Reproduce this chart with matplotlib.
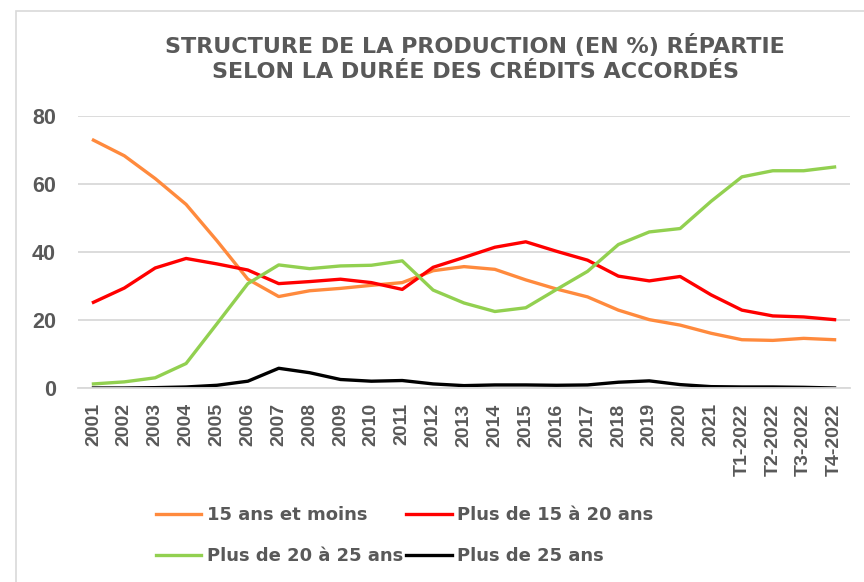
import matplotlib
matplotlib.use("Agg")
import matplotlib.pyplot as plt
from matplotlib.patches import Rectangle

# categories (axe des x)
periodes = ['2001', '2002', '2003', '2004', '2005', '2006', '2007', '2008',
            '2009', '2010', '2011', '2012', '2013', '2014', '2015', '2016',
            '2017', '2018', '2019', '2020', '2021', 'T1-2022', 'T2-2022',
            'T3-2022', 'T4-2022']

# series (en %)
moins_15 = [72.9, 68.3, 61.6, 54.0, 43.3, 32.0, 26.9, 28.6, 29.3, 30.2, 31.0,
            34.5, 35.7, 34.9, 31.8, 29.1, 26.8, 22.9, 20.1, 18.5, 16.1, 14.2,
            14.0, 14.6, 14.2]
de_15_a_20 = [25.2, 29.4, 35.3, 38.1, 36.5, 34.7, 30.7, 31.3, 32.0, 31.0, 29.0,
              35.5, 38.4, 41.4, 43.0, 40.2, 37.6, 32.9, 31.5, 32.8, 27.4, 22.9,
              21.2, 20.9, 20.1]
de_20_a_25 = [1.2, 1.8, 3.0, 7.2, 18.9, 30.7, 36.2, 35.1, 35.9, 36.1, 37.4,
              28.8, 25.0, 22.5, 23.6, 29.0, 34.3, 42.2, 45.9, 46.9, 54.9, 62.1,
              63.9, 63.9, 65.0]
plus_25 = [0.0, 0.0, 0.1, 0.3, 0.8, 2.0, 5.8, 4.5, 2.5, 2.0, 2.2,
           1.2, 0.7, 0.9, 0.9, 0.8, 0.9, 1.7, 2.1, 1.0, 0.4, 0.3,
           0.3, 0.2, 0.0]

y_ticks = [0, 20, 40, 60, 80]

gris = '#595959'
arial = ['Liberation Sans', 'DejaVu Sans']

fig = plt.figure(figsize=(8.64, 5.82), dpi=100)
W, H = 864, 582

# cadre du graphique
fig.patches.append(Rectangle((16 / W, -0.1), 2.0, 1 - 11 / H + 0.1,
                             transform=fig.transFigure, fill=False,
                             edgecolor='#D9D9D9', linewidth=1.2))

ax = fig.add_axes([78 / W, 1 - 388 / H, 772 / W, 272 / H])

x = range(len(periodes))
l1, = ax.plot(x, moins_15, color='#FF8A3D', lw=2.4, label='15 ans et moins')
l2, = ax.plot(x, de_15_a_20, color='#FF0000', lw=2.4, label='Plus de 15 à 20 ans')
l3, = ax.plot(x, de_20_a_25, color='#92D050', lw=2.4, label='Plus de 20 à 25 ans')
l4, = ax.plot(x, plus_25, color='#000000', lw=2.4, label='Plus de 25 ans')

ax.set_xlim(-0.5, len(periodes) - 0.5)
ax.set_ylim(0, 80)
ax.set_yticks(y_ticks)
ax.set_xticks(list(x))
ax.set_xticklabels(periodes, rotation=90, family=arial, fontweight='bold',
                   fontsize=14, color=gris)
ax.set_yticklabels([str(v) for v in y_ticks], family=arial, fontweight='bold',
                   fontsize=15.5, color=gris)
ax.tick_params(length=0)
ax.tick_params(axis='x', pad=11)
ax.tick_params(axis='y', pad=16)
ax.grid(axis='y', color='#D9D9D9', linewidth=1.3)
ax.set_axisbelow(True)
for s in ['top', 'right', 'left']:
    ax.spines[s].set_visible(False)
ax.spines['bottom'].set_color('#D9D9D9')
ax.spines['bottom'].set_linewidth(1.3)

fig.text(475 / W, 1 - 58 / H,
         'STRUCTURE DE LA PRODUCTION (EN %) RÉPARTIE\nSELON LA DURÉE DES CRÉDITS ACCORDÉS',
         ha='center', va='center', fontsize=16, fontweight='bold', color=gris,
         linespacing=1.35)

# ordre pour remplir les colonnes: ligne 1 orange/rouge, ligne 2 vert/noir
handles = [l1, l3, l2, l4]
leg = fig.legend(handles, [h.get_label() for h in handles],
                 loc='upper left', bbox_to_anchor=(147 / W, 1 - 497 / H),
                 ncol=2, frameon=False, borderpad=0, handlelength=2.5,
                 handletextpad=0.3, columnspacing=0.2, labelspacing=1.28,
                 prop={'weight': 'bold', 'size': 13})
for t in leg.get_texts():
    t.set_color(gris)

fig.savefig('out.png', dpi=100)
